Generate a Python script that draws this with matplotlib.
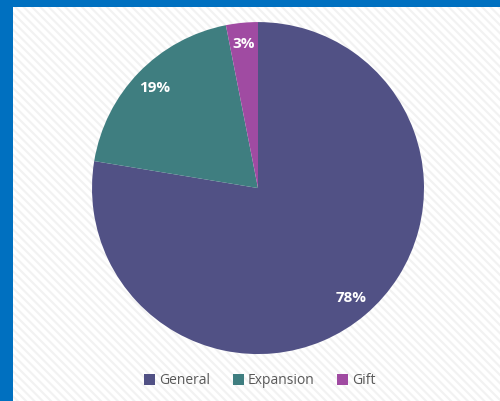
import matplotlib
matplotlib.use("Agg")
import matplotlib.pyplot as plt
from matplotlib.patches import Rectangle

categories = ["General", "Expansion", "Gift"]
values = [77.6, 19.3, 3.1]
colors = ["#515185", "#3F7E80", "#A04BA2"]

plt.rcParams['font.family'] = ['Open Sans', 'DejaVu Sans']
plt.rcParams['hatch.linewidth'] = 1.5

fig = plt.figure(figsize=(5, 4.01), dpi=100)
fig.patch.set_facecolor("white")

# hatched background
bg = Rectangle((0, 0), 1, 1, transform=fig.transFigure, facecolor="white",
               edgecolor="#F2F2F2", hatch="\\\\\\\\", linewidth=0, zorder=-10)
fig.patches.append(bg)
# blue borders
fig.patches.append(Rectangle((0, 0), 13/500, 1, transform=fig.transFigure,
                             facecolor="#0070C0", edgecolor="none", zorder=-5))
fig.patches.append(Rectangle((0, 1 - 7/401), 1, 7/401, transform=fig.transFigure,
                             facecolor="#0070C0", edgecolor="none", zorder=-5))

ax = fig.add_axes([0.184, 0.117, 0.664, 0.828])
ax.set_facecolor("none")
wedges, texts, autotexts = ax.pie(
    values, colors=colors, startangle=90, counterclock=False,
    autopct=lambda p: f"{p:.0f}%", pctdistance=0.87,
    wedgeprops=dict(edgecolor="none"),
    textprops=dict(color="white", fontsize=11, fontweight="bold"))
ax.set_xlim(-1, 1)
ax.set_ylim(-1, 1)
ax.set_aspect("equal")
ax.axis("off")

handles = [Rectangle((0, 0), 1, 1, facecolor=c, edgecolor="none") for c in colors]
leg = fig.legend(handles, categories, loc="center", bbox_to_anchor=(260/500, 1 - 381/401),
                 ncol=3, frameon=False, fontsize=10, handlelength=0.8, handleheight=0.8,
                 handletextpad=0.3, columnspacing=1.6)
for t in leg.get_texts():
    t.set_color("#595959")

fig.savefig("out.png", dpi=100)
